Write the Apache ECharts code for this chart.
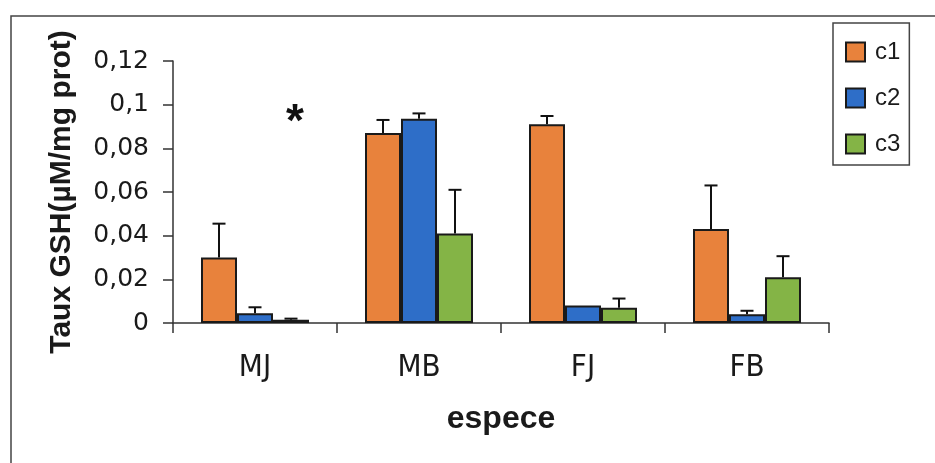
<!DOCTYPE html>
<html>
<head>
<meta charset="utf-8">
<script src="https://cdn.jsdelivr.net/npm/echarts@6/dist/echarts.min.js"></script>
<style>
  html, body { margin: 0; padding: 0; background: #ffffff; }
  #chart { width: 935px; height: 463px; }
</style>
</head>
<body>
<div id="chart"></div>
<script>
// ---- data ----
const categories = ['MJ', 'MB', 'FJ', 'FB'];
const seriesNames = ['c1', 'c2', 'c3'];
const c1 = [0.030, 0.087, 0.091, 0.043];
const c2 = [0.0045, 0.0935, 0.008, 0.004];
const c3 = [0.0015, 0.041, 0.007, 0.021];
const c1Err = [0.0155, 0.006, 0.0038, 0.020];
const c2Err = [0.0027, 0.0025, 0.0, 0.0016];
const c3Err = [0.0005, 0.020, 0.0042, 0.0096];
const c3Marks = ['*', '', '', ''];
const markLevel = 0.0915;
const yTickLabels = ['0', '0,02', '0,04', '0,06', '0,08', '0,1', '0,12'];

const colors = ['#E8823C', '#2E6EC8', '#84B446'];
const values = [c1, c2, c3];
const errors = [c1Err, c2Err, c3Err];
const marks = [null, null, c3Marks];
const BAR_W = 36;

const chart = echarts.init(document.getElementById('chart'), null, { renderer: 'canvas' });

const series = [];
values.forEach((vals, k) => {
  series.push({
    name: seriesNames[k],
    type: 'bar',
    data: vals,
    barWidth: BAR_W,
    barGap: '0%',
    itemStyle: { color: colors[k], borderColor: '#1a1a1a', borderWidth: 2 },
    z: 2
  });
});
values.forEach((vals, k) => {
  series.push({
    name: seriesNames[k] + ' err',
    type: 'custom',
    z: 3,
    data: vals.map((v, i) => [i, v, errors[k][i]]),
    encode: { x: 0, y: 1 },
    renderItem: function (params, api) {
      const i = api.value(0), v = api.value(1), e = api.value(2);
      const base = api.coord([i, v]);
      const top = api.coord([i, v + e]);
      const x = base[0] + (k - 1) * BAR_W;
      const children = [];
      if (e > 0) {
        children.push({
          type: 'line',
          shape: { x1: x, y1: base[1], x2: x, y2: top[1] },
          style: { stroke: '#111', lineWidth: 2 }
        });
        children.push({
          type: 'line',
          shape: { x1: x - 6.5, y1: top[1], x2: x + 6.5, y2: top[1] },
          style: { stroke: '#111', lineWidth: 2 }
        });
      }
      if (marks[k] && marks[k][i]) {
        const p = api.coord([i, markLevel]);
        children.push({
          type: 'text',
          style: {
            x: p[0] + (k - 1) * BAR_W + 4, y: p[1],
            text: marks[k][i],
            fill: '#111',
            font: 'bold 46px "Liberation Sans", Arial, sans-serif',
            align: 'center', verticalAlign: 'middle'
          }
        });
      }
      return { type: 'group', children: children };
    }
  });
});

chart.setOption({
  animation: false,
  backgroundColor: '#ffffff',
  graphic: [{
    type: 'polyline',
    shape: { points: [[11, 470], [11, 16], [940, 16]] },
    style: { stroke: '#444', lineWidth: 1.5, fill: null },
    silent: true
  }],
  grid: { left: 173, right: 106, top: 61, bottom: 140, containLabel: false },
  legend: {
    orient: 'vertical',
    left: 833,
    top: 23,
    data: seriesNames,
    itemWidth: 19,
    itemHeight: 19,
    itemGap: 22,
    padding: [17, 9, 9, 12],
    borderColor: '#444',
    borderWidth: 1.5,
    icon: 'rect',
    selectedMode: false,
    textStyle: {
      fontFamily: '"Liberation Sans", Arial, sans-serif',
      fontSize: 24,
      lineHeight: 20,
      color: '#1a1a1a',
      padding: [0, 0, 0, 5]
    }
  },
  xAxis: {
    type: 'category',
    data: categories,
    name: 'espece',
    nameLocation: 'middle',
    nameGap: 80,
    nameTextStyle: {
      fontFamily: '"Liberation Sans", Arial, sans-serif',
      fontWeight: 'bold',
      fontSize: 32,
      lineHeight: 32,
      color: '#1a1a1a'
    },
    axisLine: { lineStyle: { color: '#333', width: 1.5 } },
    axisTick: { show: true, length: 10, lineStyle: { color: '#333', width: 1.5 } },
    axisLabel: {
      margin: 29,
      fontFamily: '"Liberation Sans Narrow", "Arial Narrow", "DejaVu Sans Condensed", "Liberation Sans", sans-serif',
      fontSize: 31,
      lineHeight: 31,
      color: '#1a1a1a'
    },
    splitLine: { show: false }
  },
  yAxis: {
    type: 'value',
    min: 0,
    max: 0.12,
    interval: 0.02,
    name: 'Taux GSH(µM/mg prot)',
    nameLocation: 'middle',
    nameRotate: 90,
    nameGap: 96,
    nameTextStyle: {
      fontFamily: '"Liberation Sans", Arial, sans-serif',
      fontWeight: 'bold',
      fontSize: 30,
      lineHeight: 30,
      color: '#1a1a1a'
    },
    axisLine: { show: true, lineStyle: { color: '#333', width: 1.5 } },
    axisTick: { show: true, length: 10, lineStyle: { color: '#333', width: 1.5 } },
    axisLabel: {
      margin: 24,
      fontFamily: '"DejaVu Sans", sans-serif',
      fontSize: 25,
      color: '#1a1a1a',
      formatter: function (val, idx) { return yTickLabels[idx]; }
    },
    splitLine: { show: false }
  },
  series: series
});
</script>
</body>
</html>
